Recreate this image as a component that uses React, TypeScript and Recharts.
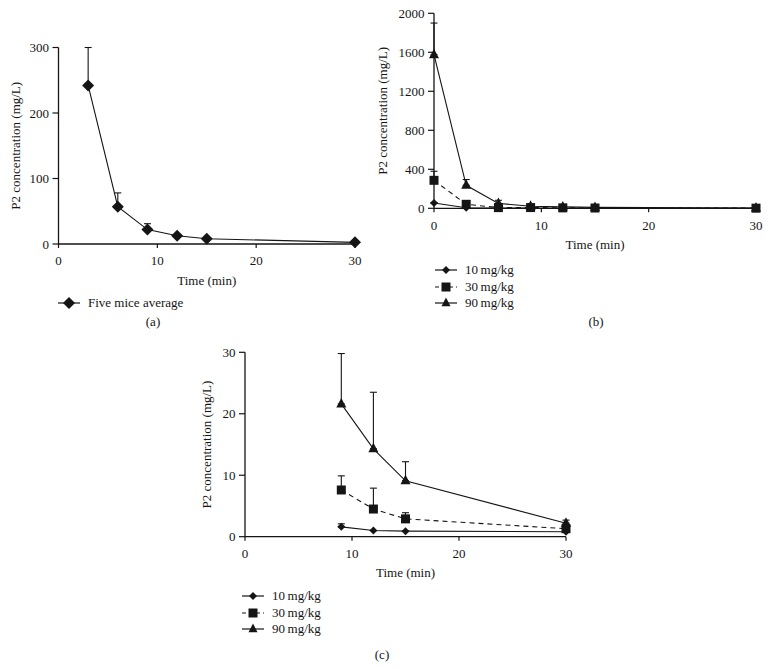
import React from 'react';
import { LineChart, Line, XAxis, YAxis, ErrorBar, Label } from 'recharts';

const FONT = '"Liberation Serif", "Times New Roman", serif';
const INK = '#151515';

// (a) five mice average
const TIME_A = [3, 6, 9, 12, 15, 30];
const AVG_A = [242, 57, 22, 12.5, 8, 2.5];
const AVG_ERR_A = [58, 21, 9, 0, 0, 0];

// (b) three doses, 0-30 min
const TIME_B = [0, 3, 6, 9, 12, 15, 30];
const D10_B = [55, 5, 3, 1.6, 1.0, 0.9, 0.8];
const D30_B = [287, 41, 7, 7.6, 4.5, 2.9, 1.3];
const D90_B = [1575, 236, 50, 21.6, 14.3, 9.1, 2.2];
const D10_ERR_B = [0, 0, 0, 0, 0, 0, 0];
const D30_ERR_B = [93, 0, 0, 0, 0, 0, 0];
const D90_ERR_B = [325, 59, 32, 0, 0, 0, 0];

// (c) three doses, 9-30 min
const TIME_C = [9, 12, 15, 30];
const D10_C = [1.6, 1.0, 0.9, 0.8];
const D30_C = [7.6, 4.5, 2.9, 1.3];
const D90_C = [21.6, 14.3, 9.1, 2.2];
const D10_ERR_C = [0.5, 0, 0, 0];
const D30_ERR_C = [2.3, 3.4, 1.0, 0.5];
const D90_ERR_C = [8.2, 9.2, 3.1, 0.5];

const X_TICKS = [0, 10, 20, 30];
const Y_TICKS_A = [0, 100, 200, 300];
const Y_TICKS_B = [0, 400, 800, 1200, 1600, 2000];
const Y_TICKS_C = [0, 10, 20, 30];

const DOSE_LABELS = ['10\u2009mg/kg', '30\u2009mg/kg', '90\u2009mg/kg'];

const dataA = TIME_A.map((t, i) => ({ t, avg: AVG_A[i], avgErr: [0, AVG_ERR_A[i]] }));
const dataB = TIME_B.map((t, i) => ({
  t,
  d10: D10_B[i], d30: D30_B[i], d90: D90_B[i],
  e10: [0, D10_ERR_B[i]], e30: [0, D30_ERR_B[i]], e90: [0, D90_ERR_B[i]],
}));
const dataC = TIME_C.map((t, i) => ({
  t,
  d10: D10_C[i], d30: D30_C[i], d90: D90_C[i],
  e10: [0, D10_ERR_C[i]], e30: [0, D30_ERR_C[i]], e90: [0, D90_ERR_C[i]],
}));

type Shape = 'diamond' | 'square' | 'triangle';
const DOSE_SHAPES: Shape[] = ['diamond', 'square', 'triangle'];

function markerPath(shape: Shape, cx: number, cy: number, r: number) {
  if (shape === 'diamond') return `M${cx},${cy - r}L${cx + r},${cy}L${cx},${cy + r}L${cx - r},${cy}Z`;
  if (shape === 'square') return `M${cx - r},${cy - r}H${cx + r}V${cy + r}H${cx - r}Z`;
  return `M${cx},${cy - r * 1.2}L${cx + r},${cy + r * 0.7}L${cx - r},${cy + r * 0.7}Z`;
}

const dot = (shape: Shape, r: number) => (p: any) => {
  const { cx, cy, index } = p;
  if (cx == null || cy == null) return <g key={index} />;
  return <path key={index} d={markerPath(shape, cx, cy, r)} fill={INK} />;
};

const tickStyle = { fill: INK, fontSize: 13, fontFamily: FONT };
const axisLine = { stroke: INK, strokeWidth: 1.3 };
const tickLine = { stroke: INK, strokeWidth: 1.2 };

function XAx({ offset }: { offset: number }) {
  return (
    <XAxis dataKey="t" type="number" domain={[0, 30]} ticks={X_TICKS} height={45}
      tick={tickStyle} tickSize={4} tickMargin={8} axisLine={axisLine} tickLine={tickLine}>
      <Label value="Time (min)" position="insideBottom" offset={offset}
        style={{ fill: INK, fontSize: 13, fontFamily: FONT }} />
    </XAxis>
  );
}

function YAx({ width, max, ticks, labelX }: { width: number; max: number; ticks: number[]; labelX: number }) {
  return (
    <YAxis type="number" domain={[0, max]} ticks={ticks} width={width}
      tick={tickStyle} tickSize={6} tickMargin={3.5} axisLine={axisLine} tickLine={tickLine}>
      <Label value="P2 concentration (mg/L)" angle={-90} position="insideLeft" offset={labelX}
        style={{ fill: INK, fontSize: 13, fontFamily: FONT, textAnchor: 'middle' }} />
    </YAxis>
  );
}

function LegendRow({ shape, dashed, label, r }: { shape: Shape; dashed?: boolean; label: string; r: number }) {
  return (
    <div style={{ display: 'flex', alignItems: 'center', height: 16.5 }}>
      <svg width={22} height={14} style={{ display: 'block' }}>
        <line x1={0} y1={7} x2={22} y2={7} stroke={INK} strokeWidth={1.2} strokeDasharray={dashed ? '4 3' : undefined} />
        <path d={markerPath(shape, 11, 7, r)} fill={INK} />
      </svg>
      <span style={{ marginLeft: 8 }}>{label}</span>
    </div>
  );
}

function Caption({ text, x, y }: { text: string; x: number; y: number }) {
  return (
    <div style={{ position: 'absolute', left: x - 20, top: y - 9, width: 40, textAlign: 'center', lineHeight: '18px' }}>
      {text}
    </div>
  );
}

export default function App() {
  return (
    <div style={{ position: 'relative', width: 770, height: 669, background: '#fff', fontFamily: FONT, fontSize: 13, color: INK, overflow: 'hidden' }}>
      <style>{'body{margin:0}'}</style>

      {/* (a) */}
      <div style={{ position: 'absolute', left: 0, top: 0 }}>
        <LineChart width={380} height={300} data={dataA} margin={{ top: 47.5, right: 25, left: 0, bottom: 11 }}>
          <XAx offset={4.5} />
          <YAx width={58.5} max={300} ticks={Y_TICKS_A} labelX={15} />
          <Line type="linear" dataKey="avg" stroke={INK} strokeWidth={1.1} dot={dot('diamond', 6)} activeDot={false} isAnimationActive={false}>
            <ErrorBar dataKey="avgErr" direction="y" width={3.5} stroke={INK} strokeWidth={1.1} />
          </Line>
        </LineChart>
      </div>
      <div style={{ position: 'absolute', left: 58, top: 295 }}>
        <LegendRow shape="diamond" r={6} label="Five mice average" />
      </div>
      <Caption text="(a)" x={153} y={322} />

      {/* (b) */}
      <div style={{ position: 'absolute', left: 370, top: 0 }}>
        <LineChart width={400} height={270} data={dataB} margin={{ top: 13.3, right: 14, left: 0, bottom: 16.7 }}>
          <XAx offset={4.5} />
          <YAx width={64} max={2000} ticks={Y_TICKS_B} labelX={12} />
          <Line type="linear" dataKey="d10" stroke={INK} strokeWidth={1.1} dot={dot('diamond', 4)} activeDot={false} isAnimationActive={false}>
            <ErrorBar dataKey="e10" direction="y" width={3.5} stroke={INK} strokeWidth={1.1} />
          </Line>
          <Line type="linear" dataKey="d30" stroke={INK} strokeWidth={1.1} strokeDasharray="5 4" dot={dot('square', 4.5)} activeDot={false} isAnimationActive={false}>
            <ErrorBar dataKey="e30" direction="y" width={3.5} stroke={INK} strokeWidth={1.1} />
          </Line>
          <Line type="linear" dataKey="d90" stroke={INK} strokeWidth={1.1} dot={dot('triangle', 5)} activeDot={false} isAnimationActive={false}>
            <ErrorBar dataKey="e90" direction="y" width={3.5} stroke={INK} strokeWidth={1.1} />
          </Line>
        </LineChart>
      </div>
      <div style={{ position: 'absolute', left: 435, top: 262 }}>
        {DOSE_LABELS.map((l, i) => (
          <LegendRow key={l} shape={DOSE_SHAPES[i]} dashed={i === 1} r={i === 0 ? 4 : 4.5} label={l} />
        ))}
      </div>
      <Caption text="(b)" x={596} y={322} />

      {/* (c) */}
      <div style={{ position: 'absolute', left: 180, top: 340 }}>
        <LineChart width={400} height={250} data={dataC} margin={{ top: 12.3, right: 14, left: 0, bottom: 8.3 }}>
          <XAx offset={4.5} />
          <YAx width={65} max={30} ticks={Y_TICKS_C} labelX={26} />
          <Line type="linear" dataKey="d10" stroke={INK} strokeWidth={1.1} dot={dot('diamond', 4)} activeDot={false} isAnimationActive={false}>
            <ErrorBar dataKey="e10" direction="y" width={3.5} stroke={INK} strokeWidth={1.1} />
          </Line>
          <Line type="linear" dataKey="d30" stroke={INK} strokeWidth={1.1} strokeDasharray="5 4" dot={dot('square', 4.5)} activeDot={false} isAnimationActive={false}>
            <ErrorBar dataKey="e30" direction="y" width={3.5} stroke={INK} strokeWidth={1.1} />
          </Line>
          <Line type="linear" dataKey="d90" stroke={INK} strokeWidth={1.1} dot={dot('triangle', 5)} activeDot={false} isAnimationActive={false}>
            <ErrorBar dataKey="e90" direction="y" width={3.5} stroke={INK} strokeWidth={1.1} />
          </Line>
        </LineChart>
      </div>
      <div style={{ position: 'absolute', left: 242, top: 588 }}>
        {DOSE_LABELS.map((l, i) => (
          <LegendRow key={l} shape={DOSE_SHAPES[i]} dashed={i === 1} r={i === 0 ? 4 : 4.5} label={l} />
        ))}
      </div>
      <Caption text="(c)" x={382} y={655} />
    </div>
  );
}
